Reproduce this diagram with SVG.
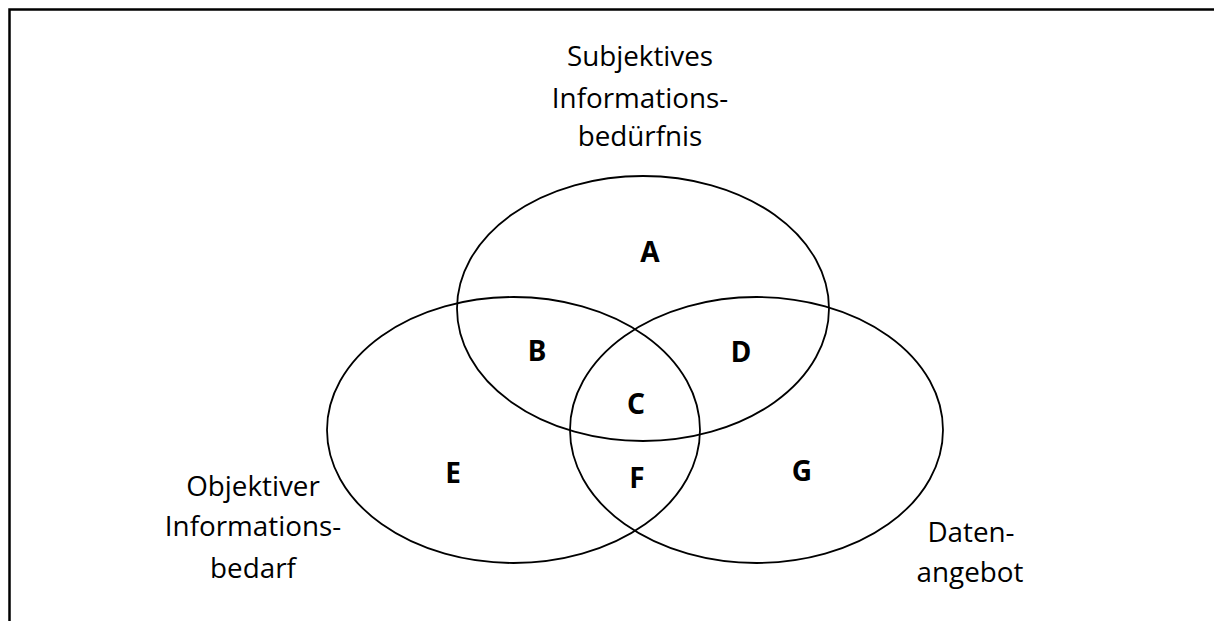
<svg xmlns="http://www.w3.org/2000/svg" width="1214" height="621" viewBox="0 0 1214 621">
  <style>
    .frame { fill: none; stroke: #000; stroke-width: 2.5; }
    .set { fill: none; stroke: #000; stroke-width: 1.8; }
    .caption { font-family: "Open Sans", "Noto Sans", sans-serif; font-size: 27.8px; fill: #000; text-anchor: middle; }
    .region { font-family: "Noto Sans", "Open Sans", sans-serif; font-weight: bold; font-size: 28px; fill: #000; text-anchor: middle; }
  </style>
  <rect width="1214" height="621" fill="#fff"/>
  <!-- outer frame: top and left edges -->
  <path class="frame" d="M9.5 621 V9.5 H1214"/>

  <!-- the three overlapping sets -->
  <g id="subjektives-informationsbeduerfnis">
    <ellipse class="set" cx="643" cy="308.5" rx="186" ry="132.5"/>
    <text class="caption" x="640" y="66">Subjektives</text>
    <text class="caption" x="640" y="108">Informations-</text>
    <text class="caption" x="640" y="146">bedürfnis</text>
  </g>
  <g id="objektiver-informationsbedarf">
    <ellipse class="set" cx="513.5" cy="430" rx="186.5" ry="133"/>
    <text class="caption" x="253" y="496">Objektiver</text>
    <text class="caption" x="253" y="536">Informations-</text>
    <text class="caption" x="253" y="578">bedarf</text>
  </g>
  <g id="datenangebot">
    <ellipse class="set" cx="756.5" cy="430" rx="186.5" ry="133"/>
    <text class="caption" x="971" y="542">Daten-</text>
    <text class="caption" x="970" y="582">angebot</text>
  </g>

  <!-- region letters -->
  <g id="regions">
    <text class="region" x="650" y="262">A</text>
    <text class="region" x="537" y="361">B</text>
    <text class="region" x="636" y="414">C</text>
    <text class="region" x="741" y="362">D</text>
    <text class="region" x="453" y="483">E</text>
    <text class="region" x="637" y="488">F</text>
    <text class="region" x="802" y="481">G</text>
  </g>
</svg>
